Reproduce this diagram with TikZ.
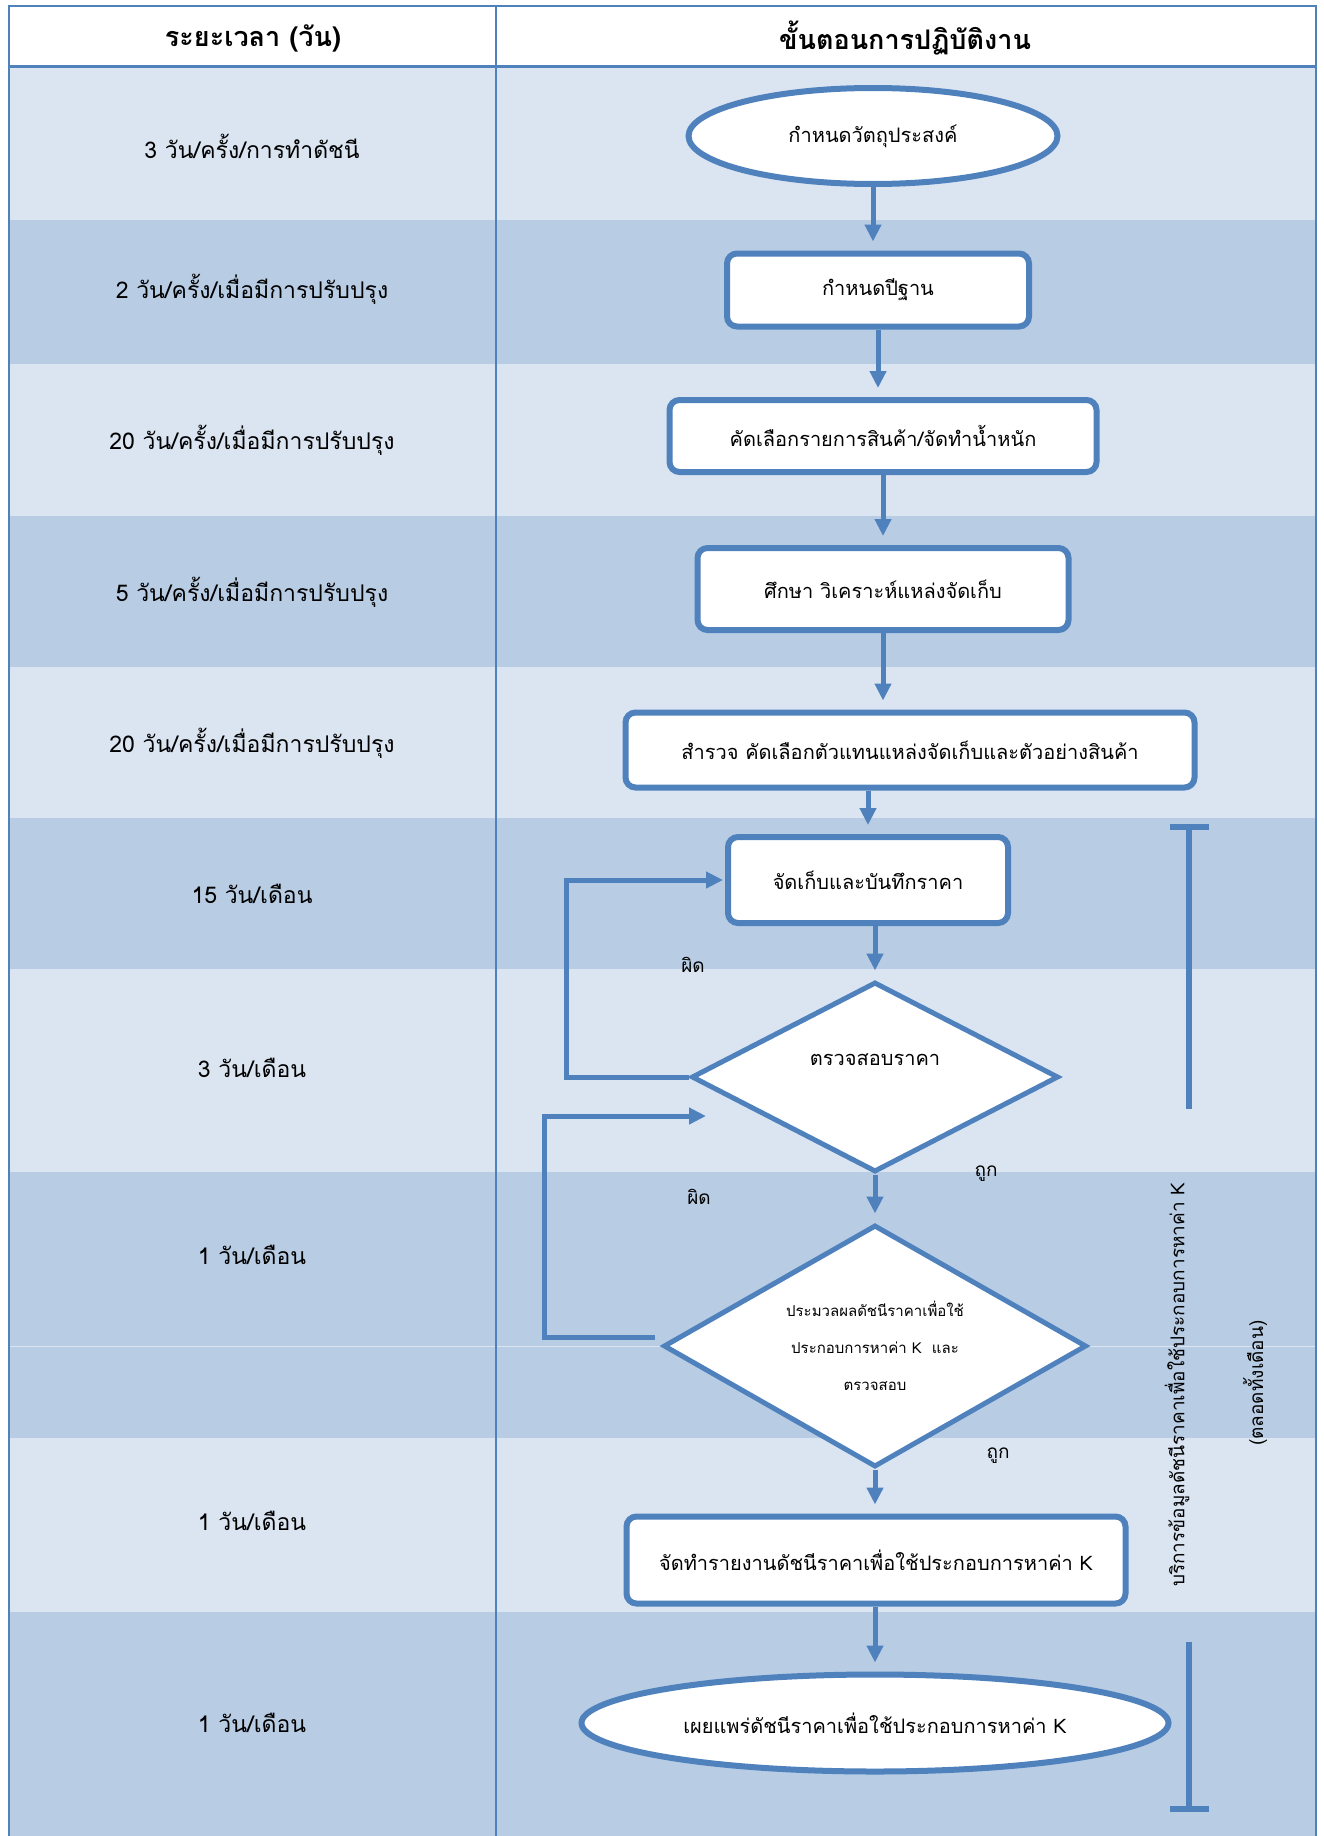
\documentclass[tikz,border=0pt]{standalone}
\usepackage{fontspec}
\setmainfont[Script=Thai]{Loma}
\usepackage{tikz}
\usetikzlibrary{shapes.geometric,arrows.meta,calc}
\definecolor{lineblue}{HTML}{4F81BD}
\definecolor{rowlight}{HTML}{DBE5F1}
\definecolor{rowdark}{HTML}{B8CCE4}

\begin{document}
\begin{tikzpicture}
  [
    x=1pt, y=-1pt,
    terminal/.style =
      {draw=lineblue, line width=6pt, ellipse, fill=white, align=center,
       font=\fontsize{20}{24}\selectfont},
    stepbox/.style =
      {draw=lineblue, line width=6pt, rectangle, rounded corners=10pt,
       fill=white, align=center, font=\fontsize{20}{24}\selectfont},
    testbox/.style =
      {draw=lineblue, line width=5pt, diamond, fill=white, align=center,
       inner sep=0pt, font=\fontsize{20}{24}\selectfont},
    headtext/.style = {font=\bfseries\fontsize{27}{31}\selectfont},
    period/.style = {font=\fontsize{23}{27}\selectfont},
    sidenote/.style = {font=\fontsize{19}{23}\selectfont},
    flow/.style =
      {draw=lineblue, line width=5pt,
       -{Triangle[length=17pt,width=16pt]}, shorten >=9pt},
    bracket/.style = {draw=lineblue, line width=5.5pt},
    tableline/.style = {draw=lineblue, line width=2.5pt}
  ]
  \useasboundingbox (0,0) rectangle (1323,1836);

  % table rows
  \fill[white]    (9,6)    rectangle (1316,67);
  \fill[rowlight] (9,67)   rectangle (1316,220);
  \fill[rowdark]  (9,220)  rectangle (1316,364);
  \fill[rowlight] (9,364)  rectangle (1316,516);
  \fill[rowdark]  (9,516)  rectangle (1316,667);
  \fill[rowlight] (9,667)  rectangle (1316,818);
  \fill[rowdark]  (9,818)  rectangle (1316,969);
  \fill[rowlight] (9,969)  rectangle (1316,1172);
  \fill[rowdark]  (9,1172) rectangle (1316,1438);
  \fill[rowlight] (9,1438) rectangle (1316,1612);
  \fill[rowdark]  (9,1612) rectangle (1316,1836);
  \draw[rowlight, line width=1pt] (9,1346) -- (1316,1346);

  \draw[tableline] (9,1836) |- (1316,6) -- (1316,1836);
  \draw[tableline, line width=3pt] (9,67) -- (1316,67);
  \draw[tableline] (496,6) -- (496,1836);

  % header
  \node [headtext] at (253,38)  (h1) {ระยะเวลา (วัน)};
  \node [headtext] at (905,38)  (h2) {ขั้นตอนการปฏิบัติงาน};

  % time per step
  \node [period] at (252,146)  (p1)  {3 วัน/ครั้ง/การทำดัชนี};
  \node [period] at (252,289)  (p2)  {2 วัน/ครั้ง/เมื่อมีการปรับปรุง};
  \node [period] at (252,440)  (p3)  {20 วัน/ครั้ง/เมื่อมีการปรับปรุง};
  \node [period] at (252,592)  (p4)  {5 วัน/ครั้ง/เมื่อมีการปรับปรุง};
  \node [period] at (252,743)  (p5)  {20 วัน/ครั้ง/เมื่อมีการปรับปรุง};
  \node [period] at (252,894)  (p6)  {15 วัน/เดือน};
  \node [period] at (252,1068) (p7)  {3 วัน/เดือน};
  \node [period] at (252,1255) (p8)  {1 วัน/เดือน};
  \node [period] at (252,1521) (p9)  {1 วัน/เดือน};
  \node [period] at (252,1723) (p10) {1 วัน/เดือน};

  % steps
  \node [terminal, minimum width=369pt, minimum height=96pt] at (873,136)  (goal)   {กำหนดวัตถุประสงค์};
  \node [stepbox,  minimum width=302pt, minimum height=73pt] at (878,290)  (base)   {กำหนดปีฐาน};
  \node [stepbox,  minimum width=427pt, minimum height=72pt] at (883,436)  (select) {คัดเลือกรายการสินค้า/จัดทำน้ำหนัก};
  \node [stepbox,  minimum width=371pt, minimum height=82pt] at (883,589)  (study)  {ศึกษา วิเคราะห์แหล่งจัดเก็บ};
  \node [stepbox,  minimum width=569pt, minimum height=75pt] at (910,750)  (survey) {สำรวจ คัดเลือกตัวแทนแหล่งจัดเก็บและตัวอย่างสินค้า};
  \node [stepbox,  minimum width=280pt, minimum height=86pt] at (868,880)  (keep)   {จัดเก็บและบันทึกราคา};
  \node [testbox,  aspect=1.93, minimum width=367pt, minimum height=190pt] at (875,1077) (chk)
        {\raisebox{12pt}[0pt][0pt]{ตรวจสอบราคา}};
  \node [testbox,  aspect=1.75, minimum width=423pt, minimum height=242pt,
         font=\fontsize{15}{37}\selectfont] at (875,1346) (proc)
        {ประมวลผลดัชนีราคาเพื่อใช้\\ประกอบการหาค่า K \ และ\\ตรวจสอบ};
  \node [stepbox,  minimum width=499pt, minimum height=87pt] at (876,1560) (report) {จัดทำรายงานดัชนีราคาเพื่อใช้ประกอบการหาค่า K};
  \node [terminal, minimum width=587pt, minimum height=97pt] at (875,1723) (pub)    {เผยแพร่ดัชนีราคาเพื่อใช้ประกอบการหาค่า K};

  \coordinate (back) at (706,1116);

  \draw[flow] (goal.south)   -- (goal.south |- base.north);
  \draw[flow] (base.south)   -- (base.south |- select.north);
  \draw[flow] (study.south |- select.south) -- (study.north);
  \draw[flow] (study.south)  -- (study.south |- survey.north);
  \draw[flow] (keep.north |- survey.south) -- (keep.north);
  \draw[flow] (chk.north |- keep.south) -- (chk.north);
  \draw[flow] (chk.south)    -- (proc.north);
  \draw[flow] (proc.south)   -- (proc.south |- report.north);
  \draw[flow] (pub.north |- report.south) -- (pub.north);

  \draw[flow, shorten >=2pt] (chk.west) -- ++(-123,0) |- (keep.west);
  \draw[flow, shorten >=0pt] ([xshift=-6pt,yshift=9pt]proc.west) -- ++(-111,0) |- (back);

  % answers
  \node [sidenote] at (693,965)  (no1)  {ผิด};
  \node [sidenote] at (699,1197) (no2)  {ผิด};
  \node [sidenote] at (986,1174) (yes1) {ถูก};
  \node [sidenote] at (998,1456) (yes2) {ถูก};

  % service period
  \draw[bracket] (1170,827)  -- (1209,827);
  \draw[bracket] (1189,827)  -- (1189,1109);
  \draw[bracket] (1189,1642) -- (1189,1809);
  \draw[bracket] (1170,1809) -- (1209,1809);
  \node [sidenote, rotate=90] at (1177,1385) (svc)   {บริการข้อมูลดัชนีราคาเพื่อใช้ประกอบการหาค่า K};
  \node [sidenote, rotate=90] at (1255,1383) (whole) {(ตลอดทั้งเดือน)};

\end{tikzpicture}
\end{document}
